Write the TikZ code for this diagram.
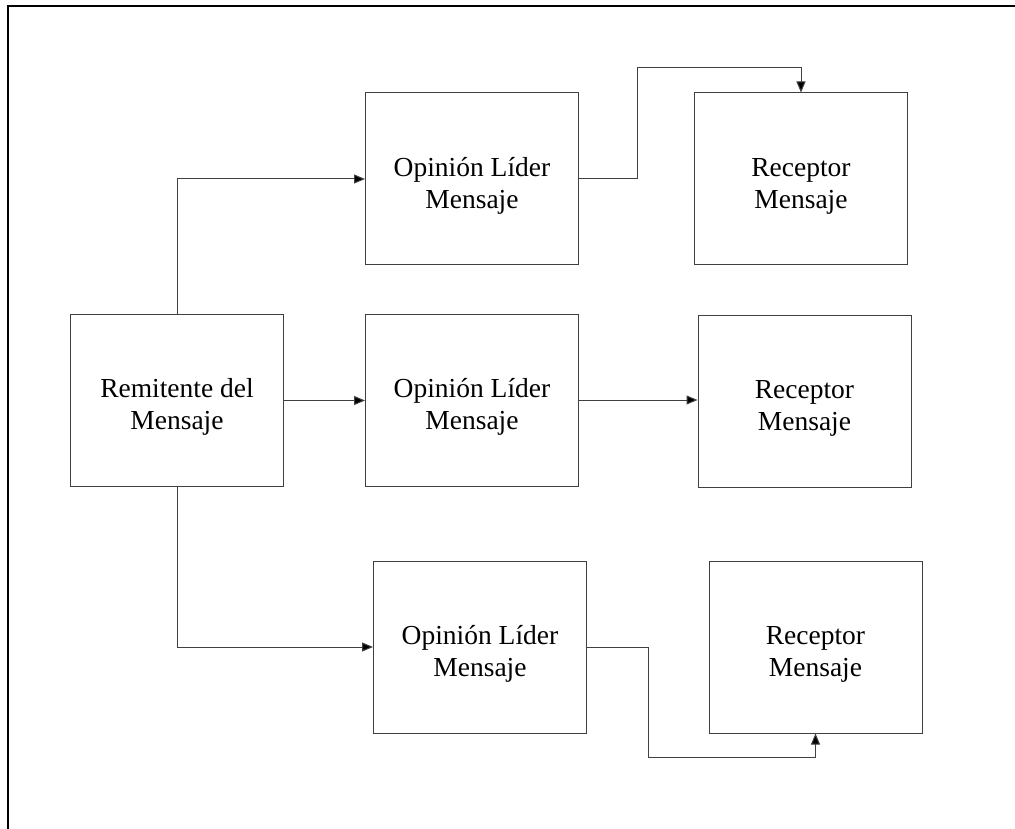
\documentclass[tikz,border=0pt]{standalone}
\usepackage{fontspec}
\setmainfont{Liberation Serif}
\usetikzlibrary{arrows.meta}
\newcommand{\twolines}[2]{\raisebox{-7pt}[\height][\depth]{\begin{tabular}{@{}c@{}}#1\\#2\end{tabular}}}
\begin{document}
\begin{tikzpicture}[x=1pt,y=1pt,
  box/.style={draw=black!75, line width=1pt, rectangle,
    minimum width=213pt, minimum height=172pt, inner sep=0pt,
    font=\fontsize{27.5}{32}\selectfont},
  conn/.style={draw=black!75, line width=1pt, -{Triangle[length=11pt,width=9pt,fill=black]}},
  frame/.style={line width=2.5pt, black}]
\useasboundingbox (0,0) rectangle (1015,-829);
\draw[frame] (1015,-6) -- (8,-6) -- (8,-829);
\node[box] (s)  at (177,-400.5) {\twolines{Remitente del}{Mensaje}};
\node[box] (o1) at (472,-179) {\twolines{Opinión Líder}{Mensaje}};
\node[box] (o2) at (472,-400) {\twolines{Opinión Líder}{Mensaje}};
\node[box] (o3) at (480,-647) {\twolines{Opinión Líder}{Mensaje}};
\node[box] (r1) at (801,-179) {\twolines{Receptor}{Mensaje}};
\node[box] (r2) at (804.5,-401) {\twolines{Receptor}{Mensaje}};
\node[box] (r3) at (815.5,-647) {\twolines{Receptor}{Mensaje}};
\coordinate (t1) at (637,-68);
\coordinate (t3) at (648,-757);
\draw[conn] (s.north) |- (o1.west);
\draw[conn] (s.east) -- (s.east -| o2.west);
\draw[conn] (s.south) |- (o3.west);
\draw[conn] (o1.east) -| (t1) -| (r1.north);
\draw[conn] (o2.east) -- (o2.east -| r2.west);
\draw[conn] (o3.east) -| (t3) -| (r3.south);
\end{tikzpicture}
\end{document}
